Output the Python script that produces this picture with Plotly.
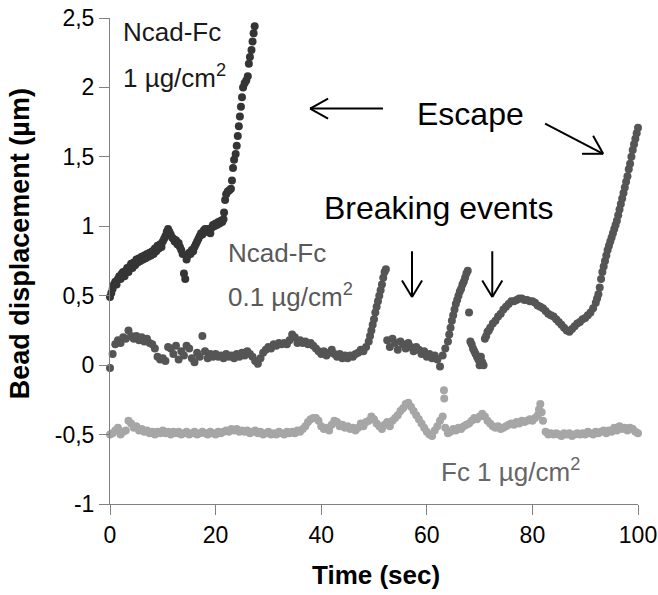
import plotly.graph_objects as go

# ---------------- data ----------------
# Ncad-Fc 1 µg/cm2
ncad1_time = [0, 0.25, 0.5, 0.75, 1, 1.25, 1.5, 1.75, 2, 2.25,
              2.5, 2.75, 3, 3.25, 3.5, 3.75, 4, 4.25, 4.5, 4.75,
              5, 5.25, 5.5, 5.75, 6, 6.25, 6.5, 6.75, 7, 7.25,
              7.5, 7.75, 8, 8.25, 8.5, 8.75, 9, 9.25, 9.5, 9.75,
              10, 10.25, 10.5, 10.75, 11, 11.25, 11.5, 11.75, 12, 12.25,
              12.5, 12.75, 13, 13.25, 13.5, 13.75, 14, 14.25, 14.5, 14.75,
              15, 15.25, 15.5, 15.75, 16, 16.25, 16.5, 16.75, 17, 17.25,
              17.5, 17.75, 18, 18.25, 18.5, 18.75, 19, 19.25, 19.5, 19.75,
              20, 20.25, 20.5, 20.75, 21, 21.25, 21.5,
              21.6, 21.8, 22.0, 22.3, 22.6, 22.9, 23.1, 23.3, 23.5, 23.8,
              24.0, 24.2, 24.4, 24.6, 24.8, 25.0, 25.2, 25.5, 25.8, 26.1,
              26.3, 26.5, 26.8, 27.0, 27.2, 27.4]
ncad1_disp = [0.49, 0.52, 0.55, 0.58, 0.60, 0.58, 0.62, 0.64, 0.62, 0.66,
              0.67, 0.64, 0.68, 0.70, 0.67, 0.71, 0.73, 0.70, 0.74, 0.72,
              0.76, 0.74, 0.77, 0.75, 0.78, 0.76, 0.79, 0.77, 0.80, 0.78,
              0.81, 0.79, 0.82, 0.80, 0.84, 0.82, 0.86, 0.84, 0.87, 0.85,
              0.89, 0.91, 0.93, 0.96, 0.98, 0.96, 0.94, 0.92, 0.91, 0.89,
              0.90, 0.87, 0.88, 0.85, 0.83, 0.80, 0.66, 0.62, 0.76, 0.79,
              0.81, 0.80, 0.83, 0.82, 0.85, 0.87, 0.89, 0.91, 0.93, 0.95,
              0.94, 0.97, 0.98, 0.96, 0.98, 0.96, 0.95, 0.99, 1.01, 1.00,
              1.02, 1.01, 1.03, 1.02, 1.04, 1.03, 1.05,
              1.10, 1.19, 1.23, 1.25, 1.26, 1.27, 1.33, 1.42, 1.48, 1.52,
              1.58, 1.65, 1.72, 1.79, 1.86, 1.93, 2.00, 2.03, 2.05, 2.08,
              2.17, 2.22, 2.27, 2.33, 2.39, 2.44]

# Ncad-Fc 0.1 µg/cm2
ncad01_time = [0, 0.5, 1, 1.5, 2, 2.5, 3, 3.5, 4, 4.5,
               5, 5.5, 6, 6.5, 7, 7.5, 8, 8.5, 9, 9.5,
               10, 10.5, 11, 11.5, 12, 12.5, 13, 13.5, 14, 14.5,
               15, 15.5, 16, 16.5, 17, 17.5, 18, 18.5, 19, 19.5,
               20, 20.5, 21, 21.5, 22, 22.5, 23, 23.5, 24, 24.5,
               25, 25.5, 26, 26.5, 27, 27.5, 28, 28.5, 29, 29.5,
               30, 30.5, 31, 31.5, 32, 32.5, 33, 33.5, 34, 34.5,
               35, 35.5, 36, 36.5, 37, 37.5, 38, 38.5, 39, 39.5,
               40, 40.5, 41, 41.5, 42, 42.5, 43, 43.5, 44, 44.5,
               45, 45.5, 46, 46.5, 47, 47.5, 48, 48.5,
               49, 49.25, 49.5, 49.75, 50, 50.25, 50.5, 50.75, 51, 51.25,
               51.5, 51.75, 52, 52.25,
               52.5, 53, 53.5, 54, 54.5, 55, 55.5, 56, 56.5, 57,
               57.5, 58, 58.5, 59, 59.5, 60, 60.5, 61, 61.5, 62,
               62.5, 63, 63.5,
               64, 64.25, 64.5, 64.75, 65, 65.25, 65.5, 65.75, 66, 66.25,
               66.5, 66.75, 67, 67.25, 67.5, 67.75,
               68, 68.25, 68.5, 68.75, 69, 69.25, 69.5, 69.75, 70, 70.25,
               70.5, 70.75,
               71, 71.25, 71.5, 71.75,
               72, 72.5, 73, 73.5, 74, 74.5, 75, 75.5, 76, 76.5,
               77, 77.5, 78, 78.5, 79, 79.5, 80, 80.5, 81, 81.5,
               82, 82.5, 83, 83.5, 84, 84.5, 85, 85.5, 86, 86.5,
               87, 87.5, 88, 88.5, 89, 89.5, 90, 90.5, 91, 91.5,
               92,
               92.25, 92.5, 92.75, 93, 93.25, 93.5, 93.75, 94, 94.25, 94.5,
               94.75, 95, 95.25, 95.5, 95.75, 96, 96.25, 96.5, 96.75, 97,
               97.25, 97.5, 97.75, 98, 98.25, 98.5, 98.75, 99, 99.25, 99.5,
               99.75, 100]
ncad01_disp = [-0.02, 0.08, 0.15, 0.18, 0.16, 0.20, 0.19, 0.25, 0.21, 0.19,
               0.21, 0.18, 0.20, 0.17, 0.19, 0.16, 0.15, 0.12, 0.06, 0.04,
               0.05, 0.03, 0.13, 0.12, 0.08, 0.14, 0.04, 0.10, 0.07, 0.14,
               0.12, 0.05, 0.02, 0.09, 0.06, 0.21, 0.10, 0.05, 0.08, 0.06,
               0.08, 0.06, 0.07, 0.05, 0.08, 0.06, 0.07, 0.05, 0.08, 0.06,
               0.09, 0.07, 0.10, 0.08, 0.06, 0.03, 0.01, 0.05, 0.09, 0.11,
               0.13, 0.12, 0.15, 0.14, 0.16, 0.15, 0.16, 0.15, 0.18, 0.22,
               0.20, 0.16, 0.18, 0.16, 0.17, 0.15, 0.16, 0.14, 0.12, 0.10,
               0.08, 0.10, 0.07, 0.09, 0.11, 0.08, 0.06, 0.08, 0.05, 0.07,
               0.05, 0.07, 0.06, 0.08, 0.09, 0.11, 0.10, 0.13,
               0.17, 0.21, 0.25, 0.29, 0.33, 0.38, 0.42, 0.46, 0.50, 0.54,
               0.58, 0.63, 0.67, 0.69,
               0.18, 0.13, 0.19, 0.16, 0.11, 0.17, 0.15, 0.12, 0.16, 0.13,
               0.10, 0.13, 0.11, 0.08, 0.10, 0.06, 0.08, 0.05, 0.07, 0.04,
               -0.01, 0.07, 0.12,
               0.17, 0.22, 0.27, 0.32, 0.36, 0.40, 0.44, 0.47, 0.50, 0.53,
               0.55, 0.58, 0.60, 0.63, 0.66, 0.68,
               0.38, 0.17, 0.15, 0.12, 0.10, 0.08, 0.06, 0.04, 0.00, 0.06,
               0.02, 0.00,
               0.19, 0.21, 0.24, 0.25,
               0.27, 0.30, 0.32, 0.35, 0.37, 0.40, 0.42, 0.44, 0.46, 0.46,
               0.47, 0.48, 0.48, 0.47, 0.47, 0.46, 0.46, 0.45, 0.43, 0.42,
               0.41, 0.39, 0.37, 0.36, 0.35, 0.33, 0.31, 0.29, 0.27, 0.25,
               0.24, 0.26, 0.28, 0.30, 0.31, 0.33, 0.34, 0.36, 0.38, 0.41,
               0.45,
               0.48, 0.51, 0.56, 0.62, 0.67, 0.71, 0.75, 0.79, 0.83, 0.86,
               0.89, 0.92, 0.95, 0.98, 1.01, 1.04, 1.08, 1.12, 1.16, 1.20,
               1.24, 1.28, 1.32, 1.36, 1.41, 1.45, 1.50, 1.55, 1.59, 1.63,
               1.67, 1.71]

# Fc 1 µg/cm2
fc_time = [0, 0.5, 1, 1.5, 2, 2.5, 3, 3.5, 4, 4.5,
           5, 5.5, 6, 6.5, 7, 7.5, 8, 8.5, 9, 9.5,
           10, 10.5, 11, 11.5, 12, 12.5, 13, 13.5, 14, 14.5,
           15, 15.5, 16, 16.5, 17, 17.5, 18, 18.5, 19, 19.5,
           20, 20.5, 21, 21.5, 22, 22.5, 23, 23.5, 24, 24.5,
           25, 25.5, 26, 26.5, 27, 27.5, 28, 28.5, 29, 29.5,
           30, 30.5, 31, 31.5, 32, 32.5, 33, 33.5, 34, 34.5,
           35, 35.5, 36, 36.5, 37, 37.5, 38, 38.5, 39, 39.5,
           40, 40.5, 41, 41.5, 42, 42.5, 43, 43.5, 44, 44.5,
           45, 45.5, 46, 46.5, 47, 47.5, 48, 48.5, 49, 49.5,
           50, 50.5, 51, 51.5, 52, 52.5, 53, 53.5, 54, 54.5,
           55, 55.5, 56, 56.5, 57, 57.5, 58, 58.5, 59, 59.5,
           60, 60.5, 61, 61.5, 62, 62.5, 63, 63.5, 64, 64.5,
           65, 65.5, 66, 66.5, 67, 67.5, 68, 68.5, 69, 69.5,
           70, 70.5, 71, 71.5, 72, 72.5, 73, 73.5, 74, 74.5,
           75, 75.5, 76, 76.5, 77, 77.5, 78, 78.5, 79, 79.5,
           80, 80.5, 81, 81.5, 82, 82.5, 83, 83.5, 84, 84.5,
           85, 85.5, 86, 86.5, 87, 87.5, 88, 88.5, 89, 89.5,
           90, 90.5, 91, 91.5, 92, 92.5, 93, 93.5, 94, 94.5,
           95, 95.5, 96, 96.5, 97, 97.5, 98, 98.5, 99, 99.5,
           100,
           63.25, 63.3, 81.25, 81.75]
fc_disp = [-0.50, -0.49, -0.47, -0.45, -0.50, -0.48, -0.47, -0.40, -0.42, -0.45,
           -0.44, -0.47, -0.46, -0.48, -0.47, -0.49, -0.48, -0.50, -0.48, -0.49,
           -0.47, -0.49, -0.48, -0.50, -0.48, -0.49, -0.48, -0.50, -0.49, -0.48,
           -0.50, -0.49, -0.48, -0.50, -0.49, -0.48, -0.49, -0.50, -0.48, -0.49,
           -0.50, -0.48, -0.49, -0.48, -0.47, -0.48, -0.46, -0.47, -0.46, -0.48,
           -0.47, -0.48, -0.47, -0.49, -0.48, -0.47, -0.49, -0.48, -0.50, -0.49,
           -0.48, -0.50, -0.49, -0.50, -0.48, -0.49, -0.50, -0.48, -0.49, -0.48,
           -0.49, -0.47, -0.48, -0.46, -0.44, -0.41, -0.39, -0.38, -0.38, -0.40,
           -0.44, -0.46, -0.45, -0.47, -0.43, -0.40, -0.41, -0.44, -0.43, -0.45,
           -0.44, -0.46, -0.45, -0.47, -0.45, -0.42, -0.44, -0.41, -0.40, -0.37,
           -0.39, -0.42, -0.44, -0.46, -0.43, -0.41, -0.44, -0.40, -0.38, -0.36,
           -0.33, -0.31, -0.28, -0.27, -0.30, -0.33, -0.36, -0.39, -0.42, -0.45,
           -0.48, -0.50, -0.51, -0.47, -0.44, -0.40, -0.37, -0.45, -0.49, -0.48,
           -0.46, -0.47, -0.45, -0.46, -0.44, -0.43, -0.42, -0.40, -0.38, -0.39,
           -0.37, -0.35, -0.37, -0.40, -0.42, -0.44, -0.45, -0.44, -0.46, -0.45,
           -0.44, -0.43, -0.42, -0.43, -0.41, -0.42, -0.40, -0.41, -0.40, -0.39,
           -0.40, -0.38, -0.36, -0.28, -0.40, -0.48, -0.50, -0.49, -0.50, -0.49,
           -0.50, -0.51, -0.49, -0.50, -0.49, -0.51, -0.50, -0.49, -0.50, -0.49,
           -0.50, -0.48, -0.49, -0.50, -0.48, -0.49, -0.48, -0.47, -0.49, -0.47,
           -0.48, -0.45, -0.47, -0.44, -0.46, -0.45, -0.47, -0.45, -0.46, -0.48,
           -0.49,
           -0.18, -0.24, -0.32, -0.34]

x_ticks = [0, 20, 40, 60, 80, 100]
x_tick_labels = ["0", "20", "40", "60", "80", "100"]
y_ticks = [-1, -0.5, 0, 0.5, 1, 1.5, 2, 2.5]
y_tick_labels = ["-1", "-0,5", "0", "0,5", "1", "1,5", "2", "2,5"]

# ---------------- figure ----------------
FONT = "Liberation Sans, Arial, sans-serif"
AXIS_COLOR = "#808080"
MS = 8

fig = go.Figure()
fig.add_trace(go.Scatter(x=fc_time, y=fc_disp, mode="markers", cliponaxis=False,
                         marker=dict(size=MS, color="#a6a6a6"), name="Fc 1"))
fig.add_trace(go.Scatter(x=ncad01_time, y=ncad01_disp, mode="markers", cliponaxis=False,
                         marker=dict(size=MS, color="#555555"), name="Ncad-Fc 0.1"))
fig.add_trace(go.Scatter(x=ncad1_time, y=ncad1_disp, mode="markers", cliponaxis=False,
                         marker=dict(size=MS, color="#353535"), name="Ncad-Fc 1"))

# plot area at x 110..638, y 18..504 of the 658x595 window
fig.update_layout(
    width=658, height=595,
    margin=dict(l=110, r=20, t=18, b=91),
    plot_bgcolor="white", paper_bgcolor="white",
    showlegend=False,
    font=dict(family=FONT, size=23, color="black"),
)
fig.update_xaxes(range=[0, 100], tickvals=x_ticks, ticktext=x_tick_labels,
                 showline=True, linecolor=AXIS_COLOR, linewidth=1,
                 ticks="outside", ticklen=10, tickcolor=AXIS_COLOR,
                 showgrid=False, zeroline=False, ticklabeloverflow="allow",
                 automargin=False,
                 tickfont=dict(family=FONT, size=23, color="black"))
fig.update_yaxes(range=[-1, 2.5], tickvals=y_ticks, ticktext=y_tick_labels,
                 showline=True, linecolor=AXIS_COLOR, linewidth=1,
                 ticks="outside", ticklen=10, tickcolor=AXIS_COLOR,
                 showgrid=False, zeroline=False, ticklabeloverflow="allow",
                 automargin=False,
                 tickfont=dict(family=FONT, size=23, color="black"))

annotations = [
    # axis titles
    dict(text="<b>Time (sec)</b>", xref="paper", yref="paper", x=0.503, y=-0.146,
         xanchor="center", yanchor="middle", showarrow=False,
         font=dict(size=26, family=FONT, color="black")),
    dict(text="<b>Bead displacement (µm)</b>", xref="paper", yref="paper", x=-0.170, y=0.535,
         xanchor="center", yanchor="middle", textangle=-90, showarrow=False,
         borderpad=0,
         font=dict(size=27, family=FONT, color="black")),
    # labels
    dict(text="Ncad-Fc", x=2.0, y=2.40, xanchor="left", yanchor="middle", showarrow=False,
         font=dict(size=26, family=FONT, color="#1a1a1a")),
    dict(text="1 µg/cm<sup>2</sup>", x=2.0, y=2.08, xanchor="left", yanchor="middle", showarrow=False,
         font=dict(size=26, family=FONT, color="#1a1a1a")),
    dict(text="Escape", x=68.2, y=1.81, xanchor="center", yanchor="middle", showarrow=False,
         font=dict(size=32, family=FONT, color="black")),
    dict(text="Breaking events", x=62.3, y=1.13, xanchor="center", yanchor="middle", showarrow=False,
         font=dict(size=32, family=FONT, color="black")),
    dict(text="Ncad-Fc", x=22.0, y=0.81, xanchor="left", yanchor="middle", showarrow=False,
         font=dict(size=26, family=FONT, color="#595959")),
    dict(text="0.1 µg/cm<sup>2</sup>", x=22.0, y=0.50, xanchor="left", yanchor="middle", showarrow=False,
         font=dict(size=26, family=FONT, color="#595959")),
    dict(text="Fc 1 µg/cm<sup>2</sup>", x=62.3, y=-0.76, xanchor="left", yanchor="middle", showarrow=False,
         font=dict(size=26, family=FONT, color="#666666")),
]
fig.update_layout(annotations=annotations)

# arrows (line + open V head), in data coordinates
arrows = [
    ((51.7, 1.848, 37.9, 1.848), [(41.3, 1.92), (41.3, 1.775)]),
    ((82.4, 1.739, 93.4, 1.522), [(91.5, 1.652), (89.4, 1.522)]),
    ((57.2, 0.82, 57.2, 0.49), [(55.3, 0.61), (59.1, 0.61)]),
    ((72.4, 0.82, 72.4, 0.49), [(70.5, 0.61), (74.3, 0.61)]),
]
shapes = []
for (x0, y0, x1, y1), wings in arrows:
    shapes.append(dict(type="line", xref="x", yref="y", x0=x0, y0=y0, x1=x1, y1=y1,
                       line=dict(color="black", width=2)))
    for wx, wy in wings:
        shapes.append(dict(type="line", xref="x", yref="y", x0=x1, y0=y1, x1=wx, y1=wy,
                           line=dict(color="black", width=2)))
fig.update_layout(shapes=shapes)

# remove the default 8 px page margin so the figure fills the window exactly
fig.write_html("out.html", config={"displayModeBar": False},
               post_script="document.body.style.margin='0';document.body.style.overflow='hidden';")
